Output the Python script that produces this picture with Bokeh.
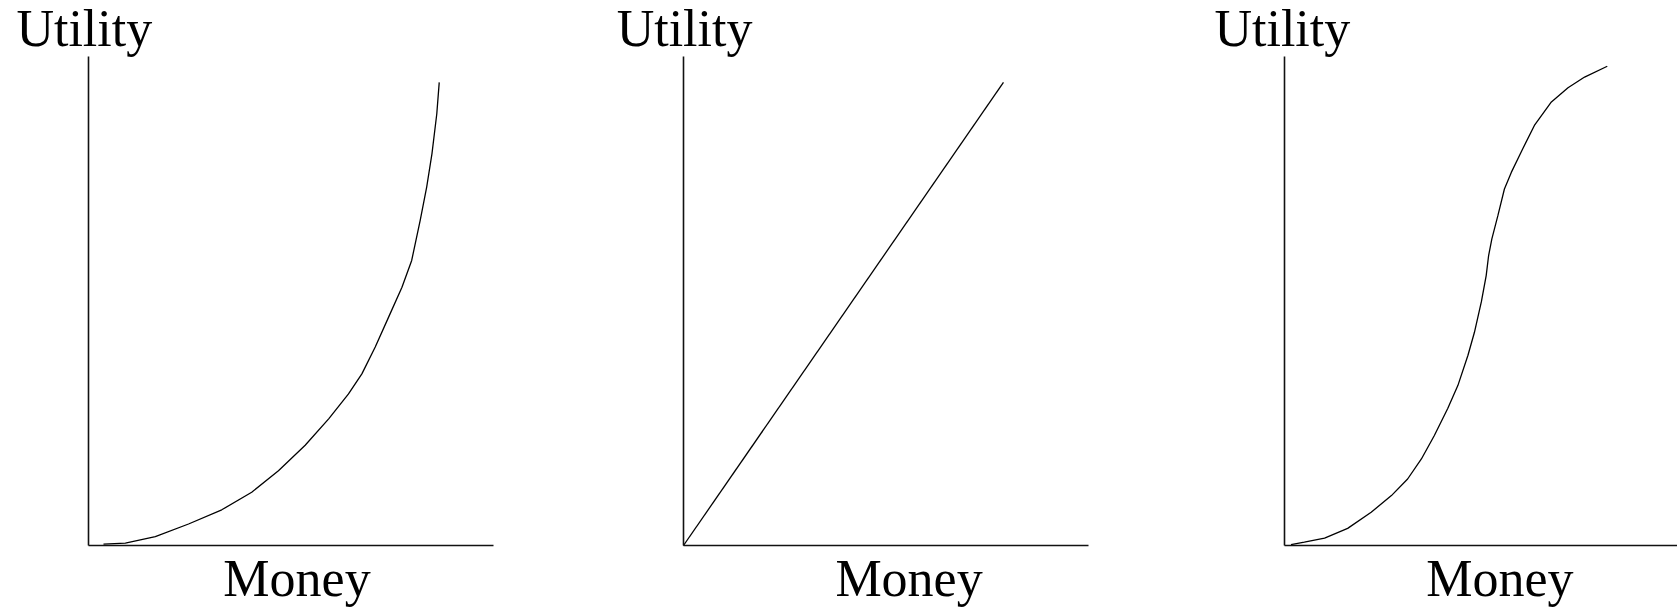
from bokeh.plotting import figure
from bokeh.models import Range1d, Label, FixedTicker
from bokeh.layouts import row
from bokeh.embed import file_html
from bokeh.resources import INLINE

# ---- data (both axes run 0..100) ----
x_label = "Money"
y_label = "Utility"

# Panel 1: convex (risk-seeking) utility
money_convex = [3.7, 9.1, 16.5, 24.7, 32.9, 40.3, 46.9, 53.5, 59.3, 64.2, 67.5, 70.8,
                74.1, 77.4, 79.8, 81.9, 83.5, 84.8, 86.0, 86.6]
utility_convex = [0.3, 0.5, 1.8, 4.4, 7.3, 10.9, 15.3, 20.5, 25.9, 31.0, 35.1, 40.6,
                  46.7, 52.8, 58.3, 66.5, 73.3, 80.1, 88.3, 94.7]

# Panel 2: linear (risk-neutral) utility
money_linear = [0.0, 79.0]
utility_linear = [0.0, 94.7]

# Panel 3: S-shaped utility
money_s = [1.6, 4.9, 9.9, 15.6, 21.4, 26.4, 30.4, 33.8, 37.0, 40.3, 42.8, 45.3, 46.9,
           48.6, 49.8, 50.4, 51.2, 52.7, 54.3, 56.0, 58.8, 61.7, 65.9, 70.0, 74.1, 79.7]
utility_s = [0.2, 0.7, 1.5, 3.5, 6.8, 10.2, 13.6, 17.7, 22.5, 28.0, 32.7, 38.9, 43.6,
             49.8, 55.2, 59.3, 62.7, 67.5, 72.9, 76.3, 81.1, 85.9, 90.7, 93.6, 95.8, 98.0]

# ---- layout (pixels) ----
FONT = "Liberation Serif"
FONT_SIZE = "52px"
FIG_H = 610
ORIGIN_Y = 545          # pixel row of the horizontal axis
PX_X = 4.05             # pixels per data unit, horizontal
PX_Y = 4.89             # pixels per data unit, vertical
UTIL_Y = 105.7          # baseline of "Utility", data units
MONEY_Y = -6.75         # baseline of "Money", data units


def make_panel(width, origin_x, x_axis_end, money, utility, util_dx, money_dx):
    x_start = -origin_x / PX_X
    x_end = (width - origin_x) / PX_X
    y_start = -(FIG_H - ORIGIN_Y) / PX_Y
    y_end = ORIGIN_Y / PX_Y
    p = figure(width=width, height=FIG_H, output_backend="svg", toolbar_location=None,
               x_range=Range1d(x_start, x_end), y_range=Range1d(y_start, y_end),
               min_border=0)
    p.grid.visible = False
    p.outline_line_color = None
    p.background_fill_color = "white"
    p.border_fill_color = "white"
    p.xaxis.fixed_location = 0
    p.yaxis.fixed_location = 0
    p.xaxis.bounds = (0, min(x_axis_end, x_end))
    p.yaxis.bounds = (0, 100)
    for ax in (p.xaxis, p.yaxis):
        ax.ticker = FixedTicker(ticks=[])
        ax.major_tick_line_color = None
        ax.minor_tick_line_color = None
        ax.major_label_text_font_size = "0px"
        ax.axis_line_color = "#111111"
        ax.axis_line_width = 1.6
    p.line(money, utility, line_color="black", line_width=1.3)
    # "Utility" above the top of the vertical axis
    p.add_layout(Label(x=util_dx, y=UTIL_Y, text=y_label,
                       text_font=FONT, text_font_size=FONT_SIZE, text_color="black",
                       text_align="left", text_baseline="alphabetic"))
    # "Money" under the horizontal axis
    p.add_layout(Label(x=money_dx, y=MONEY_Y, text=x_label,
                       text_font=FONT, text_font_size=FONT_SIZE, text_color="black",
                       text_align="left", text_baseline="alphabetic"))
    return p


p1 = make_panel(560, 88, 100, money_convex, utility_convex, -17.8, 33.3)
p2 = make_panel(560, 123, 100, money_linear, utility_linear, -16.5, 37.5)
p3 = make_panel(557, 164, 1000, money_s, utility_s, -17.3, 35.0)

layout = row(p1, p2, p3)
open("out.html", "w").write(file_html(layout, INLINE))
